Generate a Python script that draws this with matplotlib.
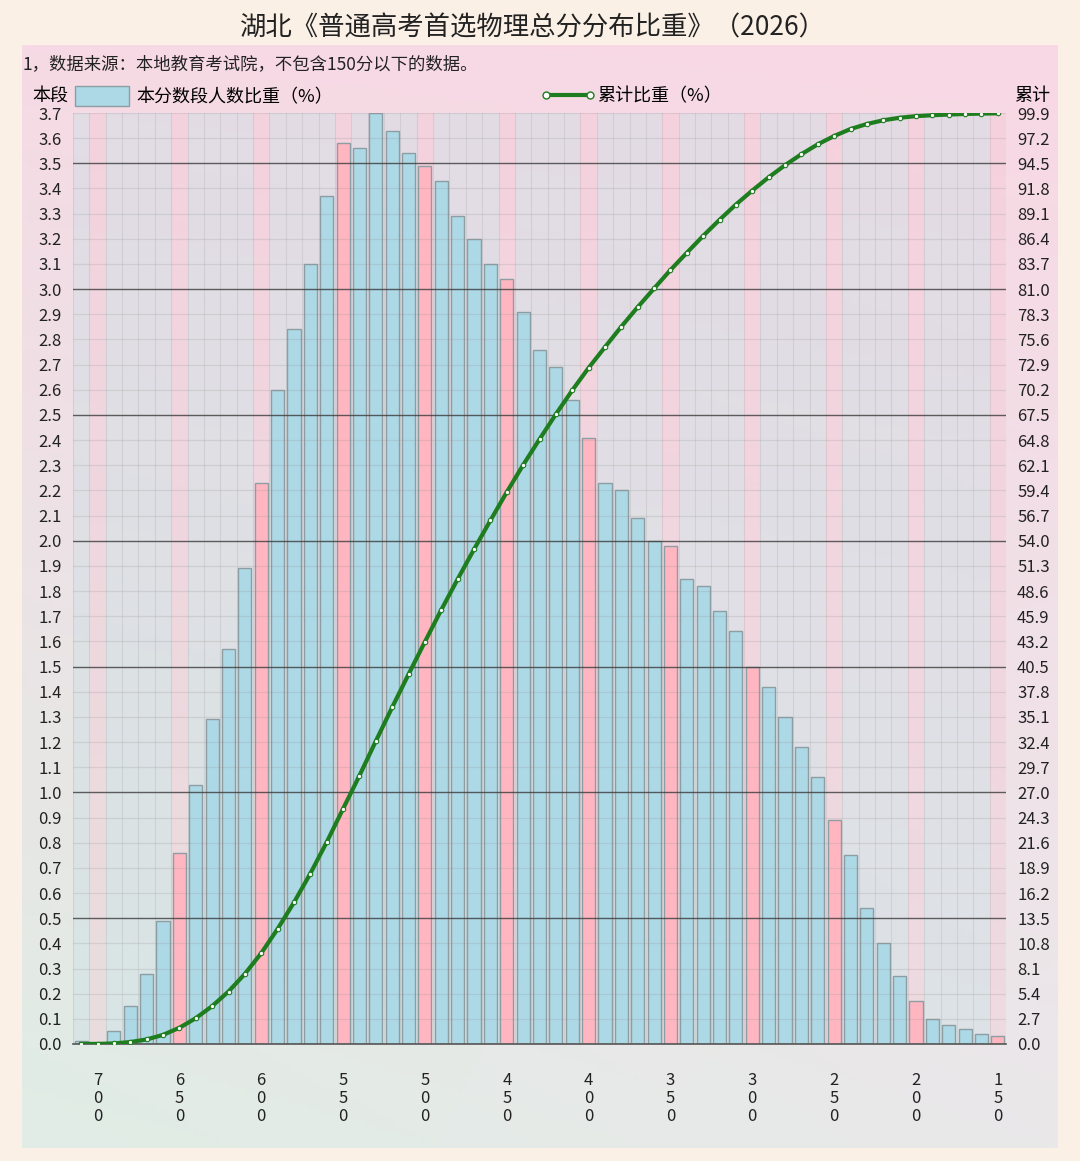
import matplotlib
matplotlib.use("Agg")
import matplotlib.pyplot as plt
import numpy as np
from matplotlib.patches import Patch
from matplotlib.lines import Line2D

plt.rcParams['font.family'] = ['Noto Sans CJK SC', 'DejaVu Sans']

# score slots (10-point bands), high to low
scores = [710, 700, 690, 680, 670, 660, 650, 640, 630, 620, 610, 600,
          590, 580, 570, 560, 550, 540, 530, 520, 510, 500,
          490, 480, 470, 460, 450, 440, 430, 420, 410, 400,
          390, 380, 370, 360, 350, 340, 330, 320, 310, 300,
          290, 280, 270, 260, 250, 240, 230, 220, 210, 200,
          190, 180, 170, 160, 150]
# share of candidates in each band (%)
pct = [0.01, 0.00, 0.05, 0.15, 0.28, 0.49, 0.76, 1.03, 1.29, 1.57, 1.89, 2.23,
       2.60, 2.84, 3.10, 3.37, 3.58, 3.56, 3.70, 3.63, 3.54, 3.49,
       3.43, 3.29, 3.20, 3.10, 3.04, 2.91, 2.76, 2.69, 2.56, 2.41,
       2.23, 2.20, 2.09, 2.00, 1.98, 1.85, 1.82, 1.72, 1.64, 1.50,
       1.42, 1.30, 1.18, 1.06, 0.89, 0.75, 0.54, 0.40, 0.27, 0.17,
       0.10, 0.075, 0.06, 0.04, 0.03]
cum = np.cumsum(pct)

xticks = [700, 650, 600, 550, 500, 450, 400, 350, 300, 250, 200, 150]

title = "湖北《普通高考首选物理总分分布比重》（2026）"
note = "1，数据来源：本地教育考试院，不包含150分以下的数据。"

W, H = 1080, 1161
fig = plt.figure(figsize=(W / 100, H / 100), dpi=100)
fig.patch.set_facecolor('#faf0e6')

# gradient panel behind the chart
bg = fig.add_axes([22 / W, 1 - 1148 / H, (1058 - 22) / W, (1148 - 45) / H])
tl = np.array([246, 218, 229]) / 255
tr = np.array([248, 216, 228]) / 255
bl = np.array([224, 237, 229]) / 255
br = np.array([234, 232, 234]) / 255
ny, nx = 200, 200
v = np.linspace(0, 1, ny)[:, None, None]
u = np.linspace(0, 1, nx)[None, :, None]
img = (1 - v) * ((1 - u) * tl + u * tr) + v * ((1 - u) * bl + u * br)
bg.imshow(img, aspect='auto', extent=[0, 1, 0, 1])
bg.axis('off')

ax = fig.add_axes([73 / W, 1 - 1044 / H, (1006 - 73) / W, (1044 - 113) / H])
ax.patch.set_alpha(0)

# slot stripes
for s in scores:
    if s % 50 == 0:
        ax.axvspan(s - 5, s + 5, color='#f4c4d2', alpha=0.35, lw=0, zorder=0)
    else:
        ax.axvspan(s - 5, s + 5, color='#cddee4', alpha=0.45, lw=0, zorder=0)
    ax.axvline(s + 5, color='#9a9a9a', lw=0.8, alpha=0.22, zorder=0.5)

colors = ['#ffb6c1' if s % 50 == 0 else '#add8e6' for s in scores]
bars = ax.bar(scores, pct, width=8, color=colors, edgecolor='#8c9ea3',
              linewidth=1, zorder=2)

# horizontal grid over the bars
for k in range(1, 38):
    yv = k / 10
    if k % 5 == 0:
        ax.axhline(yv, color='#3a3a3a', lw=1, alpha=0.8, zorder=3)
    else:
        ax.axhline(yv, color='#8a8a8a', lw=0.9, alpha=0.2, zorder=3)

ax.set_xlim(715, 145)
ax.set_ylim(0, 3.7)
ax.set_xticks(xticks)
ax.set_xticklabels(["\n".join(str(t)) for t in xticks], fontsize=12,
                   linespacing=1.1, color='#222222')
ax.set_yticks(np.arange(0, 38) / 10)
ax.set_yticklabels([f"{k / 10:.1f}" for k in range(38)], fontsize=12,
                   color='#222222')
ax.tick_params(axis='x', length=0, pad=20)
ax.tick_params(axis='y', length=0, pad=8)
for side in ['top', 'left', 'right']:
    ax.spines[side].set_visible(False)
ax.spines['bottom'].set_color('#555555')
ax.spines['bottom'].set_linewidth(1.2)
ax.spines['bottom'].set_zorder(4)

ax2 = ax.twinx()
ax2.set_ylim(0, 99.9)
rt = [round(2.7 * k, 1) for k in range(38)]
ax2.set_yticks(rt)
ax2.set_yticklabels([f"{t:.1f}" for t in rt], fontsize=12, color='#222222')
ax2.tick_params(axis='y', length=0, pad=8)
for side in ['top', 'left', 'right', 'bottom']:
    ax2.spines[side].set_visible(False)
line, = ax2.plot(scores, cum, color='#1e7d1e', lw=3, marker='o', ms=3.2,
                 mfc='white', mec='#1e7d1e', mew=0.8, zorder=5)

# legends and labels
fig.text(50 / W, 1 - 96 / H, "本段", fontsize=13, ha='center', va='center')
fig.text(1032 / W, 1 - 96 / H, "累计", fontsize=13, ha='center', va='center')
h1 = Patch(facecolor='#add8e6', edgecolor='#8c9ea3')
leg1 = fig.legend([h1], ["本分数段人数比重（%）"], loc='center left',
                  bbox_to_anchor=(66 / W, 1 - 96 / H), frameon=False,
                  fontsize=13, handlelength=3.0, handleheight=1.4,
                  handletextpad=0.4, borderpad=0)
h2 = Line2D([0], [0], color='#1e7d1e', lw=3, marker='o', ms=5,
            mfc='white', mec='#1e7d1e', markevery=[0, -1])
leg2 = fig.legend([h2], ["累计比重（%）"], loc='center left',
                  bbox_to_anchor=(532 / W, 1 - 96 / H), frameon=False,
                  fontsize=13, handlelength=3.0, handletextpad=0.1,
                  borderpad=0, numpoints=2)

fig.text(533 / W, 1 - 28 / H, title, fontsize=19, ha='center', va='center',
         color='#222222')
fig.text(22 / W, 1 - 64 / H, note, fontsize=12.5, ha='left', va='center',
         color='#222222')

fig.savefig('out.png', dpi=100, facecolor=fig.get_facecolor())
